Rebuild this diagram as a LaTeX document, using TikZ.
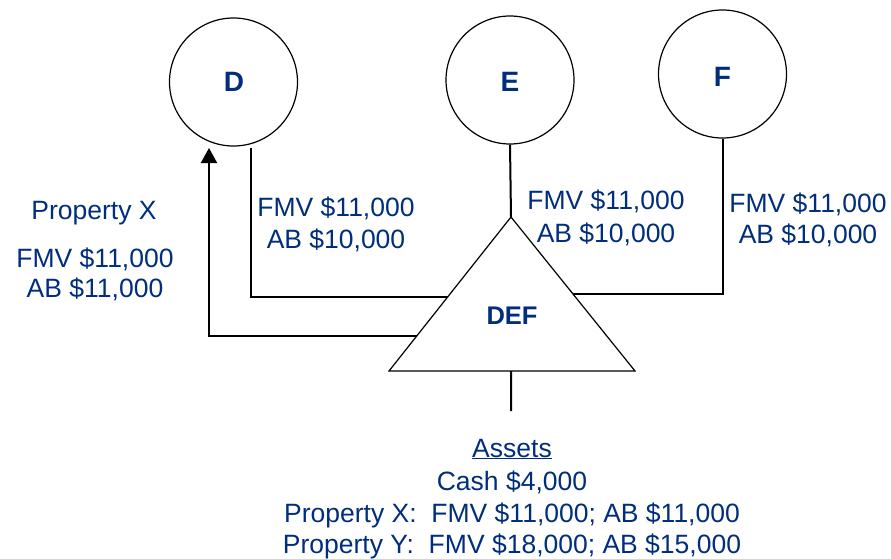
\documentclass[tikz,border=0pt]{standalone}
\usepackage{fontspec}
\setmainfont{Liberation Sans}
\usetikzlibrary{arrows.meta,calc}
\definecolor{inkblue}{RGB}{0,46,125}
\tikzset{
  partner/.style={circle,draw=black,line width=1.2pt,minimum size=128pt,inner sep=0pt},
  tagtext/.style={text=inkblue,font=\fontsize{28}{32}\selectfont\bfseries,anchor=base,inner sep=0pt},
  lbl/.style={text=inkblue,font=\fontsize{26.5}{32}\selectfont,anchor=base,inner sep=0pt},
  link/.style={line width=2pt,line join=miter},
}
\begin{document}
\begin{tikzpicture}[x=1pt,y=-1pt]
\useasboundingbox (0,0) rectangle (891,559);

% partners
\node[partner] (D) at (233.5,82) {};
\node[partner] (E) at (510,80) {};
\node[partner] (F) at (722.5,74) {};
\node[tagtext] (Dn) at (234,92) {D};
\node[tagtext] (En) at (510,92) {E};
\node[tagtext] (Fn) at (722.5,87) {F};

% partnership triangle
\coordinate (apex) at (511,217);
\coordinate (bl) at (389,371);
\coordinate (br) at (635,371);
\draw[line width=1.2pt,line join=miter] (apex) -- (bl) -- (br) -- cycle;
\node[tagtext,font=\fontsize{25.5}{30}\selectfont\bfseries] (DEF) at (512,324) {DEF};

% points where the connectors meet the triangle
\coordinate (dIn) at ($(apex)!0.519!(bl)$);
\coordinate (xOut) at ($(apex)!0.773!(bl)$);
\coordinate (fIn) at ($(apex)!0.5!(br)$);
\coordinate (dTop) at (251,148);
\coordinate (xTip) at (209,148);
\coordinate (baseMid) at ($(bl)!0.496!(br)$);
\coordinate (bottomEnd) at (511,411);

% connectors
\draw[link] (dTop) |- (dIn);
\draw[link] (E.south) -- (apex);
\draw[link] (F.south) |- (fIn);
\draw[link,-{Triangle[width=16pt,length=15pt]}] (xOut) -| (xTip);
\draw[link] (baseMid) -- (bottomEnd);

% contribution labels
\node[lbl] (dFmv) at (336,216) {FMV \$11,000};
\node[lbl] (dAb) at (336,248) {AB \$10,000};
\node[lbl] (eFmv) at (606,209) {FMV \$11,000};
\node[lbl] (eAb) at (606,242) {AB \$10,000};
\node[lbl] (fFmv) at (808,212) {FMV \$11,000};
\node[lbl] (fAb) at (808,243) {AB \$10,000};

% distribution label
\node[lbl] (xName) at (94,219) {Property X};
\node[lbl] (xFmv) at (95,267) {FMV \$11,000};
\node[lbl] (xAb) at (95,297) {AB \$11,000};

% partnership assets
\node[lbl] (assets) at (512,457) {\underline{Assets}};
\node[lbl] (cash) at (512,490) {Cash \$4,000};
\node[lbl] (propX) at (512,522) {Property X:\ \ FMV \$11,000; AB \$11,000};
\node[lbl] (propY) at (512,553) {Property Y:\ \ FMV \$18,000; AB \$15,000};
\end{tikzpicture}
\end{document}
